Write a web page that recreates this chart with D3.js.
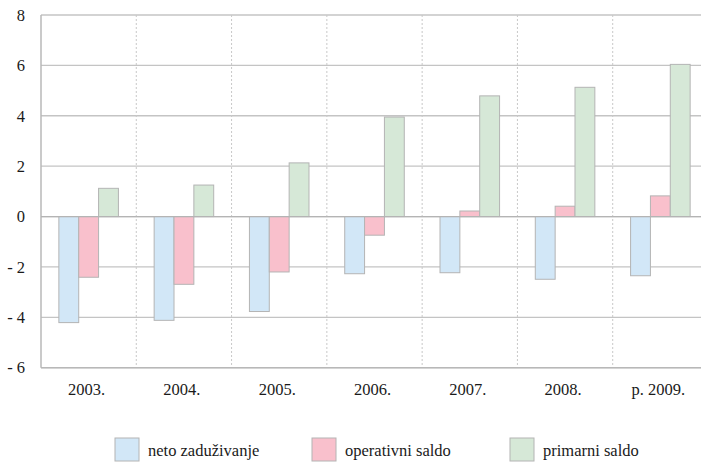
<!DOCTYPE html>
<html><head><meta charset="utf-8">
<script src="https://cdn.jsdelivr.net/npm/d3@7"></script>
<style>body{margin:0;background:#fff}svg{display:block}
text{font-family:"Times New Roman","Liberation Serif",Times,serif;font-size:16.5px;fill:#1a1a1a}</style>
</head><body>
<svg id="c" width="701" height="463"></svg>
<script>
const categories = ["2003.","2004.","2005.","2006.","2007.","2008.","p. 2009."];
const seriesNames = ["neto zaduživanje","operativni saldo","primarni saldo"];
const neto = [-4.21,-4.12,-3.77,-2.27,-2.23,-2.49,-2.35];
const operativni = [-2.41,-2.69,-2.2,-0.74,0.22,0.41,0.82];
const primarni = [1.12,1.25,2.13,3.95,4.79,5.13,6.04];
const yTicks = [8,6,4,2,0,-2,-4,-6];
const colors = ["#d2e7f7","#f9c0cc","#d6e8d7"];
const series = [neto, operativni, primarni];

const svg = d3.select("#c");
const m = {l:41, t:15, r:708, b:367.7};
const x = d3.scaleBand().domain(categories).range([m.l, m.r]).paddingInner(0).paddingOuter(0);
const x1 = d3.scaleBand().domain(seriesNames).range([0, x.bandwidth()]).paddingOuter(0.9).paddingInner(0);
const y = d3.scaleLinear().domain([-6,8]).range([m.b, m.t]);

svg.append("g").selectAll("line").data(yTicks).join("line")
  .attr("x1", m.l).attr("x2", m.r).attr("y1", d=>y(d)).attr("y2", d=>y(d))
  .attr("stroke", "#c4c4c4").attr("stroke-width", 1.3);
svg.append("g").selectAll("line").data(categories.slice(1)).join("line")
  .attr("x1", d=>x(d)).attr("x2", d=>x(d)).attr("y1", m.t).attr("y2", m.b)
  .attr("stroke", "#c8c8c8").attr("stroke-width", 1).attr("stroke-dasharray", "2,2");
svg.append("line").attr("x1", m.l).attr("x2", m.l).attr("y1", m.t).attr("y2", m.b).attr("stroke","#b8b8b8").attr("stroke-width",1.5);
svg.append("line").attr("x1", m.l).attr("x2", m.r).attr("y1", m.b).attr("y2", m.b).attr("stroke","#b8b8b8").attr("stroke-width",1.5);

series.forEach((vals, si) => {
  svg.append("g").selectAll("rect").data(vals).join("rect")
    .attr("x", (d,i)=>x(categories[i]) + x1(seriesNames[si]))
    .attr("width", x1.bandwidth())
    .attr("y", d=>y(Math.max(0,d)))
    .attr("height", d=>Math.abs(y(d)-y(0)))
    .attr("fill", colors[si]).attr("stroke", "#b4b4b4").attr("stroke-width", 1);
});
svg.append("line").attr("x1", m.l).attr("x2", m.r).attr("y1", y(0)).attr("y2", y(0)).attr("stroke","#b4b4b4").attr("stroke-width",1.3);

svg.append("g").selectAll("text").data(yTicks).join("text")
  .attr("x", 25).attr("y", d=>y(d)).attr("dy","0.35em").attr("text-anchor","end")
  .text(d=> d<0 ? "- " + Math.abs(d) : String(d));

svg.append("g").selectAll("text").data(categories).join("text")
  .attr("x", d=>x(d)+x.bandwidth()/2 - 2).attr("y", 395).attr("text-anchor","middle")
  .text(d=>d);

const legX = [115, 312, 510];
const lg = svg.append("g").selectAll("g").data(seriesNames).join("g")
  .attr("transform", (d,i)=>`translate(${legX[i]},438)`);
lg.append("rect").attr("width",24).attr("height",23).attr("fill",(d,i)=>colors[i]).attr("stroke","#b4b4b4");
lg.append("text").attr("x",33).attr("y",18).text(d=>d);
</script>
</body></html>
